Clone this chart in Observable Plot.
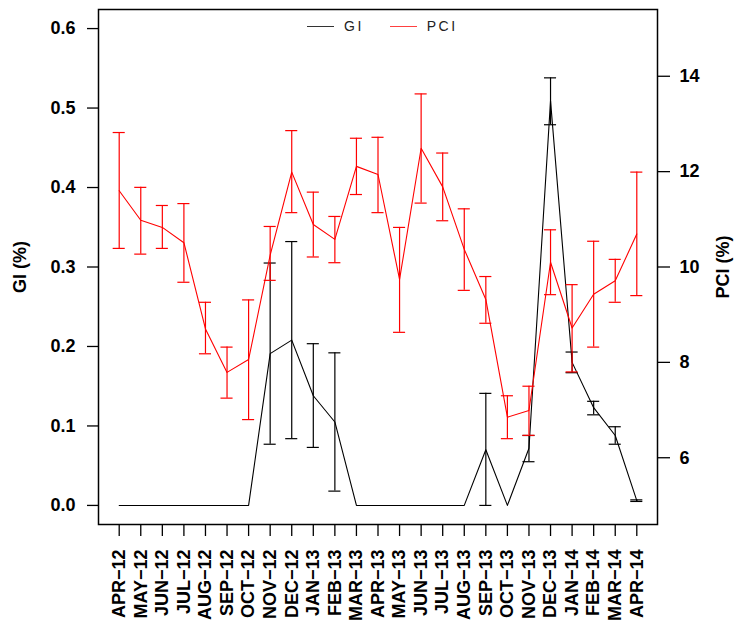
<!DOCTYPE html>
<html>
<head>
<meta charset="utf-8">
<script src="https://cdn.jsdelivr.net/npm/d3@7"></script>
<script src="https://cdn.jsdelivr.net/npm/@observablehq/plot@0.6"></script>
<style>
  html, body { margin: 0; padding: 0; background: #fff; }
  #wrap { position: relative; width: 734px; height: 622px; }
  #legend { position: absolute; top: 18px; left: 307px; font-family: "Liberation Sans", Arial, sans-serif; font-size: 14px; letter-spacing: 2.5px; color: #222; display: flex; align-items: center; }
  #legend .sw { display: inline-block; width: 27px; height: 0; border-top: 1.3px solid; margin-right: 10px; }
  #legend .item { display: flex; align-items: center; margin-right: 26px; }
</style>
</head>
<body>
<div id="wrap">
  <div id="chart"></div>
  <div id="legend">
    <span class="item"><span class="sw" style="border-color:#333"></span>GI</span>
    <span class="item"><span class="sw" style="border-color:#ff4040"></span>PCI</span>
  </div>
</div>
<script>
// Categories
const months = ["APR−12","MAY−12","JUN−12","JUL−12","AUG−12","SEP−12","OCT−12","NOV−12","DEC−12","JAN−13","FEB−13","MAR−13","APR−13","MAY−13","JUN−13","JUL−13","AUG−13","SEP−13","OCT−13","NOV−13","DEC−13","JAN−14","FEB−14","MAR−14","APR−14"];

// GI (%) — left axis
const gi     = [0,0,0,0,0,0,0,0.191,0.208,0.138,0.105,0,0,0,0,0,0,0.070,0,0.072,0.509,0.180,0.123,0.088,0.006];
const giLow  = [null,null,null,null,null,null,null,0.077,0.084,0.073,0.018,null,null,null,null,null,null,0.000,null,0.055,0.479,0.167,0.114,0.077,0.005];
const giHigh = [null,null,null,null,null,null,null,0.305,0.332,0.2035,0.192,null,null,null,null,null,null,0.141,null,0.088,0.538,0.193,0.131,0.099,0.007];

// PCI (%) — right axis
const pci     = [11.60,10.98,10.83,10.51,8.70,7.79,8.06,10.25,11.99,10.89,10.58,12.11,11.94,9.74,12.49,11.68,10.37,9.32,6.85,6.99,10.10,8.72,9.43,9.71,10.69];
const pciLow  = [10.39,10.27,10.39,9.68,8.18,7.25,6.80,9.72,11.14,10.21,10.09,11.52,11.14,8.63,11.34,10.97,9.51,8.82,6.40,6.47,9.42,7.80,8.32,9.26,9.40];
const pciHigh = [12.82,11.67,11.29,11.33,9.26,8.32,9.31,10.85,12.86,11.57,11.06,12.70,12.72,10.83,13.63,12.39,11.22,9.80,7.30,7.50,10.78,9.63,10.54,10.16,11.99];

// Axis ticks
const giTicks = [0, 0.1, 0.2, 0.3, 0.4, 0.5, 0.6];
const pciTicks = [6, 8, 10, 12, 14];

// right axis (PCI 5..15) mapped onto left axis (GI 0..0.6)
const toGI = p => (p - 5) * 0.06;
const fromGI = v => Math.round(v / 0.06 + 5);

const giData = months.map((m, i) => ({i: i + 1, v: gi[i], lo: giLow[i], hi: giHigh[i]}));
const pciData = months.map((m, i) => ({i: i + 1, v: toGI(pci[i]), lo: toGI(pciLow[i]), hi: toGI(pciHigh[i])}));
const giErr = giData.filter(d => d.lo != null);

const cap = 0.28;
const font = "'Liberation Sans', Arial, Helvetica, sans-serif";
const fs = 18;

const chart = Plot.plot({
  width: 734,
  height: 622,
  marginLeft: 98,
  marginRight: 77,
  marginTop: 9,
  marginBottom: 98,
  style: {fontFamily: font, background: "#fff", color: "#000"},
  x: {domain: [0.04, 25.96]},
  y: {domain: [-0.024, 0.624]},
  marks: [
    Plot.axisY({ticks: giTicks, tickFormat: d3.format(".1f"), tickSize: 11, tickPadding: 12, fontSize: fs, fontWeight: "bold", label: null, strokeWidth: 1.3}),
    Plot.axisY({anchor: "right", ticks: pciTicks.map(toGI), tickFormat: fromGI, tickSize: 12, tickPadding: 10, fontSize: fs, fontWeight: "bold", label: null, strokeWidth: 1.3}),
    Plot.axisX({ticks: d3.range(1, 26), tickFormat: i => months[i - 1], tickRotate: -90, tickSize: 12, tickPadding: 13, fontSize: fs, fontWeight: "bold", label: null, strokeWidth: 1.3}),
    Plot.text(["GI (%)"], {text: d => d, frameAnchor: "left", textAnchor: "middle", dx: -78, rotate: -90, fontSize: fs, fontWeight: "bold"}),
    Plot.text(["PCI (%)"], {text: d => d, frameAnchor: "right", textAnchor: "middle", dx: 66, rotate: -90, fontSize: fs, fontWeight: "bold"}),
    // GI series
    Plot.line(giData, {x: "i", y: "v", stroke: "#000", strokeWidth: 1.1}),
    Plot.ruleX(giErr, {x: "i", y1: "lo", y2: "hi", stroke: "#000", strokeWidth: 1.2}),
    Plot.ruleY(giErr, {y: "lo", x1: d => d.i - cap, x2: d => d.i + cap, stroke: "#000", strokeWidth: 1.2}),
    Plot.ruleY(giErr, {y: "hi", x1: d => d.i - cap, x2: d => d.i + cap, stroke: "#000", strokeWidth: 1.2}),
    // PCI series
    Plot.line(pciData, {x: "i", y: "v", stroke: "#ff0000", strokeWidth: 1.1}),
    Plot.ruleX(pciData, {x: "i", y1: "lo", y2: "hi", stroke: "#ff0000", strokeWidth: 1.2}),
    Plot.ruleY(pciData, {y: "lo", x1: d => d.i - cap, x2: d => d.i + cap, stroke: "#ff0000", strokeWidth: 1.2}),
    Plot.ruleY(pciData, {y: "hi", x1: d => d.i - cap, x2: d => d.i + cap, stroke: "#ff0000", strokeWidth: 1.2}),
    Plot.frame({stroke: "#000", strokeWidth: 1.5})
  ]
});
document.getElementById("chart").appendChild(chart);
</script>
</body>
</html>
